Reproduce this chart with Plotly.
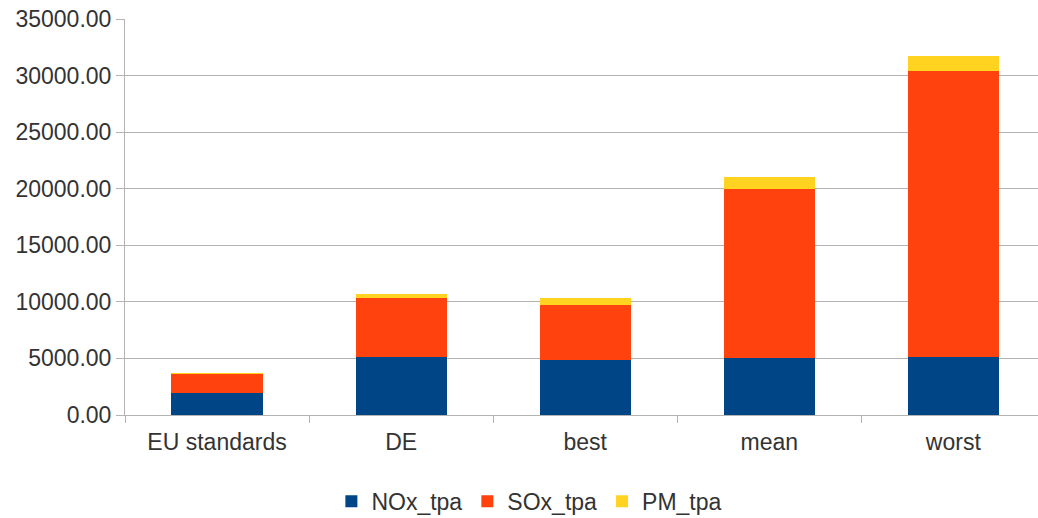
import plotly.graph_objects as go

# Annual emissions (tonnes per annum) by scenario
scenarios = ["EU standards", "DE", "best", "mean", "worst"]
nox_tpa = [1920, 5160, 4870, 5020, 5100]
sox_tpa = [1710, 5220, 4860, 14950, 25280]
pm_tpa = [40, 300, 600, 1030, 1390]

y_ticks = [0, 5000, 10000, 15000, 20000, 25000, 30000, 35000]
y_tick_text = [f"{v:.2f}" for v in y_ticks]

font_family = "Liberation Sans, Arial, sans-serif"
text_color = "#333333"
grid_color = "#b3b3b3"
font_size = 23

fig = go.Figure()
fig.add_trace(go.Bar(name="NOx_tpa", x=scenarios, y=nox_tpa, marker=dict(color="#004586", line=dict(width=0))))
fig.add_trace(go.Bar(name="SOx_tpa", x=scenarios, y=sox_tpa, marker=dict(color="#ff420e", line=dict(width=0))))
fig.add_trace(go.Bar(name="PM_tpa", x=scenarios, y=pm_tpa, marker=dict(color="#ffd320", line=dict(width=0))))

fig.update_layout(
    width=1038,
    height=518,
    barmode="stack",
    bargap=0.505,
    plot_bgcolor="white",
    paper_bgcolor="white",
    margin=dict(l=125, r=0, t=19, b=103, autoexpand=False),
    font=dict(family=font_family, size=font_size, color=text_color),
    legend=dict(
        orientation="h",
        xref="container",
        yref="container",
        x=0.51,
        xanchor="center",
        y=0.032,
        yanchor="middle",
        font=dict(size=font_size, color=text_color),
        itemwidth=30,
        traceorder="normal",
    ),
    showlegend=True,
)

fig.update_xaxes(
    type="category",
    range=[-0.5, 4.46],
    showline=True,
    linecolor=grid_color,
    linewidth=1,
    ticks="outside",
    tickson="boundaries",
    ticklen=7,
    tickcolor=grid_color,
    showgrid=False,
    ticklabelstandoff=6,
    tickfont=dict(size=font_size, color=text_color),
)

fig.update_yaxes(
    range=[0, 35000],
    tickvals=y_ticks,
    ticktext=y_tick_text,
    showgrid=True,
    gridcolor=grid_color,
    gridwidth=1,
    zeroline=False,
    showline=True,
    linecolor=grid_color,
    linewidth=1,
    ticks="outside",
    ticklen=8,
    tickcolor=grid_color,
    tickfont=dict(size=font_size, color=text_color),
)

fig.write_html("out.html")
